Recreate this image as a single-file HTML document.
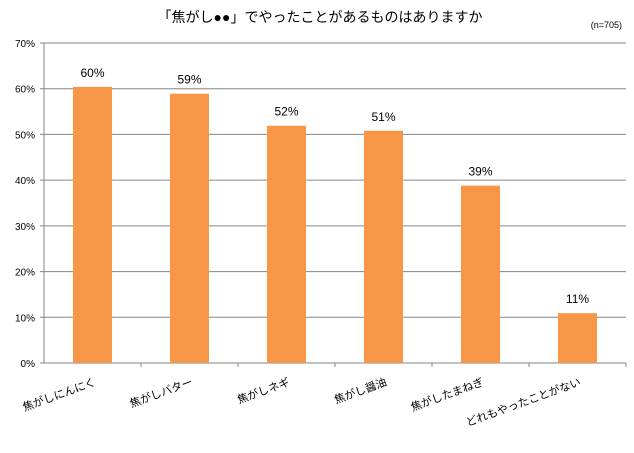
<!DOCTYPE html>
<html><head><meta charset="utf-8"><style>
body{margin:0;background:#fff;font-family:"Liberation Sans","Noto Sans CJK JP",sans-serif}
</style></head><body>
<svg width="634" height="448" xmlns="http://www.w3.org/2000/svg" id="c" font-family="Liberation Sans, Noto Sans CJK JP, sans-serif">
<text x="320" y="22" text-anchor="middle" font-size="14">「焦がし●●」でやったことがあるものはありますか</text>
<text x="622" y="28" text-anchor="end" font-size="9">(n=705)</text>
</svg>
<script>
const categories=["焦がしにんにく","焦がしバター","焦がしネギ","焦がし醤油","焦がしたまねぎ","どれもやったことがない"];
const values=[60.4,58.9,51.9,50.8,38.8,10.9];
const labels=["60%","59%","52%","51%","39%","11%"];
const ticks=[0,10,20,30,40,50,60,70];
const svg=document.getElementById('c');const NS="http://www.w3.org/2000/svg";
const x0=44,x1=626,y0=363,y1=43,max=70;
const y=v=>y0-(v/max)*(y0-y1);
const cw=(x1-x0)/categories.length;
function mk(t,a,txt){const e=document.createElementNS(NS,t);for(const k in a)e.setAttribute(k,a[k]);if(txt!==undefined)e.textContent=txt;svg.appendChild(e);return e;}
ticks.forEach(t=>{
 const g=mk('line',{x1:x0-4,x2:x1,y1:y(t),y2:y(t),stroke:t===0?'#868686':'#868686','stroke-width':1});
 
 
 const l=mk('text',{x:x0-9,y:y(t)+4,'text-anchor':'end','font-size':10},t+'%');
 
 
});
const ax=mk('line',{x1:x0,x2:x0,y1:y1,y2:y0,stroke:'#868686'});


categories.forEach((c,i)=>{
 const tk=mk('line',{x1:x0+cw*(i+1),x2:x0+cw*(i+1),y1:y0,y2:y0+4,stroke:'#868686'});
 
 
 const bx=x0+cw*i+29;
 const b=mk('rect',{x:bx,y:y(values[i]),width:39,height:y0-y(values[i]),fill:'#f79646'});
 
 
 const v=mk('text',{x:bx+19.5,y:y(values[i])-10,'text-anchor':'middle','font-size':12},labels[i]);
 
 
 const cx=x0+cw*i+cw/2+4;
 const t=mk('text',{x:cx,y:y0+22,'text-anchor':'end','font-size':11,transform:`rotate(-20 ${cx} ${y0+22})`},c);
 
 
});
</script>
</body></html>
